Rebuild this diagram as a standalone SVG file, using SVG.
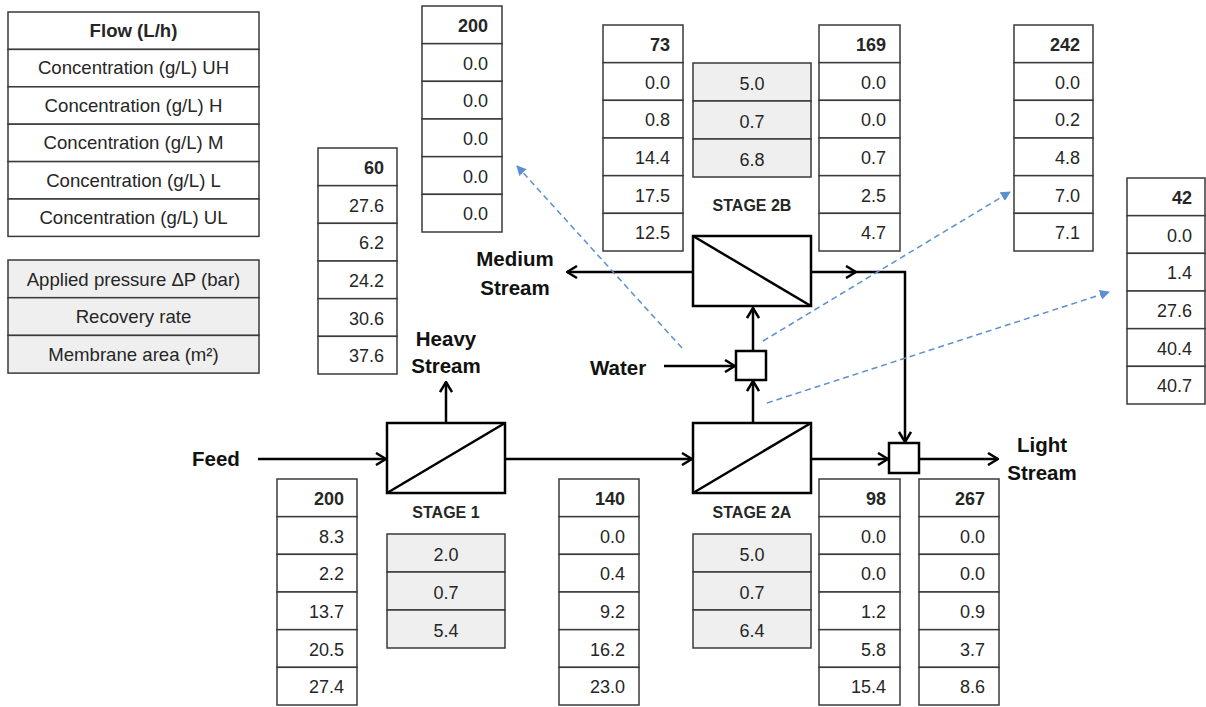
<svg xmlns="http://www.w3.org/2000/svg" width="1206" height="707" viewBox="0 0 1206 707">
  <style>
    text { font-family: "Liberation Sans", Arial, sans-serif; fill: #262626; }
    .cell { fill: #ffffff; stroke: #3a3a3a; stroke-width: 1.5; }
    .gcell { fill: #efefef; stroke: #3a3a3a; stroke-width: 1.5; }
    .num { font-size: 18px; text-anchor: end; }
    .b { font-weight: bold; }
    .mid { font-size: 18px; text-anchor: middle; }
    .leg { font-size: 18.6px; text-anchor: middle; }
    .lbl { font-size: 20.5px; font-weight: bold; fill: #111; }
    .stage { font-size: 16px; font-weight: bold; text-anchor: middle; }
    .unit { fill: #ffffff; stroke: #000; stroke-width: 2.5; }
    .flow { fill: none; stroke: #000; stroke-width: 2.5; marker-end: url(#arr); }
    .line { fill: none; stroke: #000; stroke-width: 2.5; }
    .note { fill: none; stroke: #5b8fd0; stroke-width: 1.5; stroke-dasharray: 6 4; marker-end: url(#tri); }
  </style>
  <defs>
    <marker id="arr" viewBox="0 0 12 14" refX="11" refY="7" markerWidth="12" markerHeight="14" markerUnits="userSpaceOnUse" orient="auto">
      <path d="M1,1 L11,7 L1,13" fill="none" stroke="#000" stroke-width="2.5"/>
    </marker>
    <marker id="tri" viewBox="0 0 10 10" refX="9" refY="5" markerWidth="10" markerHeight="10" markerUnits="userSpaceOnUse" orient="auto">
      <path d="M0,0 L10,5 L0,10 Z" fill="#5b8fd0"/>
    </marker>
  </defs>

  <!-- legend: stream data rows -->
  <g id="legend-streams" transform="translate(8,12)">
    <rect class="cell" x="0" y="0" width="251" height="37.4"/>
    <rect class="cell" x="0" y="37.4" width="251" height="37.4"/>
    <rect class="cell" x="0" y="74.8" width="251" height="37.4"/>
    <rect class="cell" x="0" y="112.2" width="251" height="37.4"/>
    <rect class="cell" x="0" y="149.6" width="251" height="37.4"/>
    <rect class="cell" x="0" y="187" width="251" height="37.4"/>
    <text class="leg b" x="125.5" y="25">Flow (L/h)</text>
    <text class="leg" x="125.5" y="62.4">Concentration (g/L) UH</text>
    <text class="leg" x="125.5" y="99.8">Concentration (g/L) H</text>
    <text class="leg" x="125.5" y="137.2">Concentration (g/L) M</text>
    <text class="leg" x="125.5" y="174.6">Concentration (g/L) L</text>
    <text class="leg" x="125.5" y="212">Concentration (g/L) UL</text>
  </g>

  <!-- legend: stage operating data -->
  <g id="legend-stages" transform="translate(8,260)">
    <rect class="gcell" x="0" y="0" width="251" height="37.7"/>
    <rect class="gcell" x="0" y="37.7" width="251" height="37.7"/>
    <rect class="gcell" x="0" y="75.4" width="251" height="37.7"/>
    <text class="leg" x="125.5" y="25.5">Applied pressure ΔP (bar)</text>
    <text class="leg" x="125.5" y="63.2">Recovery rate</text>
    <text class="leg" x="125.5" y="100.9">Membrane area (m²)</text>
  </g>

  <!-- connectors -->
  <g id="connectors">
    <path class="flow" d="M258,459 L386,459"/>
    <path class="flow" d="M446,423 L446,382"/>
    <path class="flow" d="M505,459 L692,459"/>
    <path class="flow" d="M753,423 L753,381"/>
    <path class="flow" d="M664,366 L735,366"/>
    <path class="flow" d="M753,351 L753,308"/>
    <path class="flow" d="M693,272 L567,272"/>
    <path class="flow" d="M811,272 L856,272"/>
    <path class="flow" d="M850,272 L905,272 L905,442"/>
    <path class="flow" d="M811,459 L888,459"/>
    <path class="flow" d="M919,459 L998,459"/>
    <path class="note" d="M682,348 L517,166"/>
    <path class="note" d="M763,341 L1010,192"/>
    <path class="note" d="M767,403 L1109,292"/>
  </g>

  <!-- membrane stages and mixers -->
  <g id="stage1">
    <rect class="unit" x="387" y="423" width="118" height="70"/>
    <path class="line" d="M387,493 L505,423"/>
    <text class="stage" x="446" y="518">STAGE 1</text>
  </g>
  <g id="stage2a">
    <rect class="unit" x="693" y="423" width="118" height="70"/>
    <path class="line" d="M693,493 L811,423"/>
    <text class="stage" x="752" y="518">STAGE 2A</text>
  </g>
  <g id="stage2b">
    <rect class="unit" x="693" y="236" width="118" height="70"/>
    <path class="line" d="M693,236 L811,306"/>
    <text class="stage" x="752" y="211">STAGE 2B</text>
  </g>
  <g id="mixer-water">
    <rect class="unit" x="736" y="351" width="30" height="29"/>
  </g>
  <g id="mixer-light">
    <rect class="unit" x="889" y="443" width="30" height="30"/>
  </g>

  <!-- stream labels -->
  <g id="labels">
    <text class="lbl" x="192" y="466">Feed</text>
    <text class="lbl" x="446" y="346" text-anchor="middle">Heavy</text>
    <text class="lbl" x="446" y="373" text-anchor="middle">Stream</text>
    <text class="lbl" x="515" y="266" text-anchor="middle">Medium</text>
    <text class="lbl" x="515" y="295" text-anchor="middle">Stream</text>
    <text class="lbl" x="590" y="375">Water</text>
    <text class="lbl" x="1042" y="452" text-anchor="middle">Light</text>
    <text class="lbl" x="1042" y="480" text-anchor="middle">Stream</text>
  </g>

  <!-- stream data tables -->
  <g id="tbl-feed" transform="translate(277,479)">
    <rect class="cell" x="0" y="0" width="80" height="37.67"/>
    <rect class="cell" x="0" y="37.67" width="80" height="37.67"/>
    <rect class="cell" x="0" y="75.33" width="80" height="37.67"/>
    <rect class="cell" x="0" y="113" width="80" height="37.67"/>
    <rect class="cell" x="0" y="150.67" width="80" height="37.67"/>
    <rect class="cell" x="0" y="188.33" width="80" height="37.67"/>
    <text class="num b" x="67" y="26">200</text>
    <text class="num" x="67" y="63.67">8.3</text>
    <text class="num" x="67" y="101.33">2.2</text>
    <text class="num" x="67" y="139">13.7</text>
    <text class="num" x="67" y="176.67">20.5</text>
    <text class="num" x="67" y="214.33">27.4</text>
  </g>

  <g id="tbl-heavy" transform="translate(318,148)">
    <rect class="cell" x="0" y="0" width="79" height="37.67"/>
    <rect class="cell" x="0" y="37.67" width="79" height="37.67"/>
    <rect class="cell" x="0" y="75.33" width="79" height="37.67"/>
    <rect class="cell" x="0" y="113" width="79" height="37.67"/>
    <rect class="cell" x="0" y="150.67" width="79" height="37.67"/>
    <rect class="cell" x="0" y="188.33" width="79" height="37.67"/>
    <text class="num b" x="66" y="26">60</text>
    <text class="num" x="66" y="63.67">27.6</text>
    <text class="num" x="66" y="101.33">6.2</text>
    <text class="num" x="66" y="139">24.2</text>
    <text class="num" x="66" y="176.67">30.6</text>
    <text class="num" x="66" y="214.33">37.6</text>
  </g>

  <g id="tbl-water" transform="translate(422,6)">
    <rect class="cell" x="0" y="0" width="80" height="37.67"/>
    <rect class="cell" x="0" y="37.67" width="80" height="37.67"/>
    <rect class="cell" x="0" y="75.33" width="80" height="37.67"/>
    <rect class="cell" x="0" y="113" width="80" height="37.67"/>
    <rect class="cell" x="0" y="150.67" width="80" height="37.67"/>
    <rect class="cell" x="0" y="188.33" width="80" height="37.67"/>
    <text class="num b" x="66" y="26">200</text>
    <text class="num" x="66" y="63.67">0.0</text>
    <text class="num" x="66" y="101.33">0.0</text>
    <text class="num" x="66" y="139">0.0</text>
    <text class="num" x="66" y="176.67">0.0</text>
    <text class="num" x="66" y="214.33">0.0</text>
  </g>

  <g id="tbl-2a-feed" transform="translate(559,479)">
    <rect class="cell" x="0" y="0" width="80" height="37.67"/>
    <rect class="cell" x="0" y="37.67" width="80" height="37.67"/>
    <rect class="cell" x="0" y="75.33" width="80" height="37.67"/>
    <rect class="cell" x="0" y="113" width="80" height="37.67"/>
    <rect class="cell" x="0" y="150.67" width="80" height="37.67"/>
    <rect class="cell" x="0" y="188.33" width="80" height="37.67"/>
    <text class="num b" x="66" y="26">140</text>
    <text class="num" x="66" y="63.67">0.0</text>
    <text class="num" x="66" y="101.33">0.4</text>
    <text class="num" x="66" y="139">9.2</text>
    <text class="num" x="66" y="176.67">16.2</text>
    <text class="num" x="66" y="214.33">23.0</text>
  </g>

  <g id="tbl-medium" transform="translate(603,25)">
    <rect class="cell" x="0" y="0" width="80" height="37.67"/>
    <rect class="cell" x="0" y="37.67" width="80" height="37.67"/>
    <rect class="cell" x="0" y="75.33" width="80" height="37.67"/>
    <rect class="cell" x="0" y="113" width="80" height="37.67"/>
    <rect class="cell" x="0" y="150.67" width="80" height="37.67"/>
    <rect class="cell" x="0" y="188.33" width="80" height="37.67"/>
    <text class="num b" x="67" y="26">73</text>
    <text class="num" x="67" y="63.67">0.0</text>
    <text class="num" x="67" y="101.33">0.8</text>
    <text class="num" x="67" y="139">14.4</text>
    <text class="num" x="67" y="176.67">17.5</text>
    <text class="num" x="67" y="214.33">12.5</text>
  </g>

  <g id="tbl-2b-permeate" transform="translate(819,25)">
    <rect class="cell" x="0" y="0" width="81" height="37.67"/>
    <rect class="cell" x="0" y="37.67" width="81" height="37.67"/>
    <rect class="cell" x="0" y="75.33" width="81" height="37.67"/>
    <rect class="cell" x="0" y="113" width="81" height="37.67"/>
    <rect class="cell" x="0" y="150.67" width="81" height="37.67"/>
    <rect class="cell" x="0" y="188.33" width="81" height="37.67"/>
    <text class="num b" x="67" y="26">169</text>
    <text class="num" x="67" y="63.67">0.0</text>
    <text class="num" x="67" y="101.33">0.0</text>
    <text class="num" x="67" y="139">0.7</text>
    <text class="num" x="67" y="176.67">2.5</text>
    <text class="num" x="67" y="214.33">4.7</text>
  </g>

  <g id="tbl-2b-feed" transform="translate(1014,25)">
    <rect class="cell" x="0" y="0" width="79" height="37.67"/>
    <rect class="cell" x="0" y="37.67" width="79" height="37.67"/>
    <rect class="cell" x="0" y="75.33" width="79" height="37.67"/>
    <rect class="cell" x="0" y="113" width="79" height="37.67"/>
    <rect class="cell" x="0" y="150.67" width="79" height="37.67"/>
    <rect class="cell" x="0" y="188.33" width="79" height="37.67"/>
    <text class="num b" x="66" y="26">242</text>
    <text class="num" x="66" y="63.67">0.0</text>
    <text class="num" x="66" y="101.33">0.2</text>
    <text class="num" x="66" y="139">4.8</text>
    <text class="num" x="66" y="176.67">7.0</text>
    <text class="num" x="66" y="214.33">7.1</text>
  </g>

  <g id="tbl-2a-retentate" transform="translate(1127,178)">
    <rect class="cell" x="0" y="0" width="78" height="37.67"/>
    <rect class="cell" x="0" y="37.67" width="78" height="37.67"/>
    <rect class="cell" x="0" y="75.33" width="78" height="37.67"/>
    <rect class="cell" x="0" y="113" width="78" height="37.67"/>
    <rect class="cell" x="0" y="150.67" width="78" height="37.67"/>
    <rect class="cell" x="0" y="188.33" width="78" height="37.67"/>
    <text class="num b" x="65" y="26">42</text>
    <text class="num" x="65" y="63.67">0.0</text>
    <text class="num" x="65" y="101.33">1.4</text>
    <text class="num" x="65" y="139">27.6</text>
    <text class="num" x="65" y="176.67">40.4</text>
    <text class="num" x="65" y="214.33">40.7</text>
  </g>

  <g id="tbl-2a-permeate" transform="translate(819,479)">
    <rect class="cell" x="0" y="0" width="81" height="37.67"/>
    <rect class="cell" x="0" y="37.67" width="81" height="37.67"/>
    <rect class="cell" x="0" y="75.33" width="81" height="37.67"/>
    <rect class="cell" x="0" y="113" width="81" height="37.67"/>
    <rect class="cell" x="0" y="150.67" width="81" height="37.67"/>
    <rect class="cell" x="0" y="188.33" width="81" height="37.67"/>
    <text class="num b" x="67" y="26">98</text>
    <text class="num" x="67" y="63.67">0.0</text>
    <text class="num" x="67" y="101.33">0.0</text>
    <text class="num" x="67" y="139">1.2</text>
    <text class="num" x="67" y="176.67">5.8</text>
    <text class="num" x="67" y="214.33">15.4</text>
  </g>

  <g id="tbl-light" transform="translate(919,479)">
    <rect class="cell" x="0" y="0" width="80" height="37.67"/>
    <rect class="cell" x="0" y="37.67" width="80" height="37.67"/>
    <rect class="cell" x="0" y="75.33" width="80" height="37.67"/>
    <rect class="cell" x="0" y="113" width="80" height="37.67"/>
    <rect class="cell" x="0" y="150.67" width="80" height="37.67"/>
    <rect class="cell" x="0" y="188.33" width="80" height="37.67"/>
    <text class="num b" x="66" y="26">267</text>
    <text class="num" x="66" y="63.67">0.0</text>
    <text class="num" x="66" y="101.33">0.0</text>
    <text class="num" x="66" y="139">0.9</text>
    <text class="num" x="66" y="176.67">3.7</text>
    <text class="num" x="66" y="214.33">8.6</text>
  </g>

  <!-- stage operating data tables -->
  <g id="ops-stage1" transform="translate(387,534)">
    <rect class="gcell" x="0" y="0" width="118" height="38"/>
    <rect class="gcell" x="0" y="38" width="118" height="38"/>
    <rect class="gcell" x="0" y="76" width="118" height="38"/>
    <text class="mid" x="59" y="27">2.0</text>
    <text class="mid" x="59" y="65">0.7</text>
    <text class="mid" x="59" y="103">5.4</text>
  </g>
  <g id="ops-stage2a" transform="translate(693,534)">
    <rect class="gcell" x="0" y="0" width="118" height="38"/>
    <rect class="gcell" x="0" y="38" width="118" height="38"/>
    <rect class="gcell" x="0" y="76" width="118" height="38"/>
    <text class="mid" x="59" y="27">5.0</text>
    <text class="mid" x="59" y="65">0.7</text>
    <text class="mid" x="59" y="103">6.4</text>
  </g>
  <g id="ops-stage2b" transform="translate(693,63)">
    <rect class="gcell" x="0" y="0" width="118" height="38"/>
    <rect class="gcell" x="0" y="38" width="118" height="38"/>
    <rect class="gcell" x="0" y="76" width="118" height="38"/>
    <text class="mid" x="59" y="27">5.0</text>
    <text class="mid" x="59" y="65">0.7</text>
    <text class="mid" x="59" y="103">6.8</text>
  </g>
</svg>
